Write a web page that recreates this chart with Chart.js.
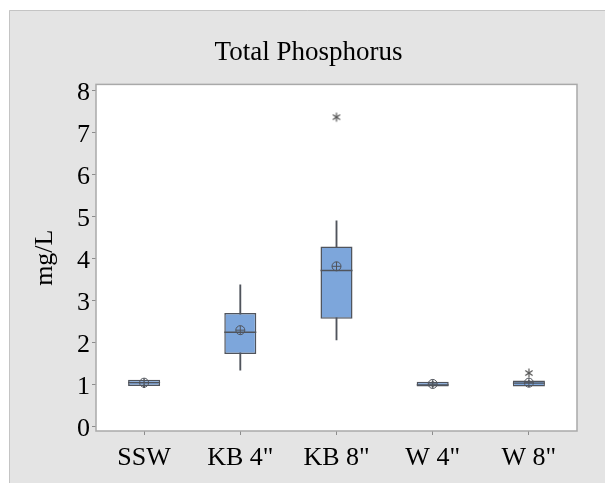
<!DOCTYPE html>
<html>
<head>
<meta charset="utf-8">
<script src="https://cdn.jsdelivr.net/npm/chart.js@4.4.1/dist/chart.umd.min.js"></script>
<style>
  html, body { margin: 0; padding: 0; background: #fff; overflow: hidden; }
  canvas { display: block; }
</style>
</head>
<body>
<canvas id="tp" width="605" height="483"></canvas>
<script>
// Total phosphorus by sampling site (mg/L)
const categories  = ['SSW', 'KB 4"', 'KB 8"', 'W 4"', 'W 8"'];
const whiskerLow  = [0.93, 1.35, 2.07, 0.95, 0.96];
const quartile1   = [0.97, 1.73, 2.57, 0.96, 0.96];
const medians     = [1.05, 2.25, 3.72, 1.00, 1.04];
const quartile3   = [1.12, 2.71, 4.29, 1.07, 1.10];
const whiskerHigh = [1.12, 3.38, 4.90, 1.08, 1.10];
const means       = [1.05, 2.30, 3.82, 1.02, 1.05];
const outlierCats = ['KB 8"', 'W 8"'];
const outlierVals = [7.37, 1.28];
const yTicks      = [0, 1, 2, 3, 4, 5, 6, 7, 8];

const SERIF = "'Liberation Serif', 'Times New Roman', serif";
const INK = '#50545c';

// little "*" marker for outliers
function asterisk(r, color) {
    const n = Math.ceil(r * 2 + 3);
    const c = document.createElement('canvas');
    c.width = c.height = n;
    const g = c.getContext('2d');
    g.strokeStyle = color;
    g.lineWidth = 1.2;
    const m = n / 2;
    [90, 35, 145].forEach(deg => {
        const t = deg * Math.PI / 180;
        g.beginPath();
        g.moveTo(m - r * Math.cos(t), m - r * Math.sin(t));
        g.lineTo(m + r * Math.cos(t), m + r * Math.sin(t));
        g.stroke();
    });
    return c;
}

// grey panel behind everything, white plot area with a grey frame
const plotFrame = {
    id: 'plotFrame',
    beforeDraw(chart) {
        const { ctx, chartArea: a, width, height } = chart;
        ctx.save();
        ctx.fillStyle = '#fff';
        ctx.fillRect(0, 0, width, height);
        ctx.fillStyle = '#e4e4e4';
        ctx.fillRect(9, 10, width, height);
        ctx.strokeStyle = '#c4c4c4';
        ctx.lineWidth = 1;
        ctx.beginPath();
        ctx.moveTo(9.5, height);
        ctx.lineTo(9.5, 10.5);
        ctx.lineTo(width, 10.5);
        ctx.stroke();
        ctx.fillStyle = '#fff';
        ctx.fillRect(a.left, a.top, a.right - a.left, a.bottom - a.top);
        ctx.restore();
    },
    afterDraw(chart) {
        const { ctx, chartArea: a } = chart;
        ctx.save();
        ctx.strokeStyle = '#a9a9a9';
        ctx.lineWidth = 1.5;
        ctx.strokeRect(a.left, a.top, a.right - a.left, a.bottom - a.top);
        ctx.restore();
    }
};

const ctx = document.getElementById('tp').getContext('2d');
new Chart(ctx, {
    type: 'bar',
    data: {
        labels: categories,
        datasets: [
            {
                label: 'whiskers',
                data: whiskerLow.map((lo, i) => [lo, whiskerHigh[i]]),
                backgroundColor: INK,
                barThickness: 1.2,
                grouped: false,
                order: 5
            },
            {
                label: 'IQR',
                data: quartile1.map((q, i) => [q, quartile3[i]]),
                backgroundColor: '#7da6db',
                borderColor: INK,
                borderWidth: 1.5,
                borderSkipped: false,
                categoryPercentage: 1,
                barPercentage: 0.333,
                grouped: false,
                order: 4
            },
            {
                type: 'line',
                label: 'median',
                data: medians,
                showLine: false,
                pointStyle: 'line',
                pointRadius: 16,
                borderColor: INK,
                borderWidth: 1.3,
                order: 3
            },
            {
                type: 'line',
                label: 'mean',
                data: means,
                showLine: false,
                pointStyle: 'circle',
                pointRadius: 4.5,
                backgroundColor: 'rgba(0,0,0,0)',
                borderColor: INK,
                borderWidth: 1,
                order: 2
            },
            {
                type: 'line',
                label: 'mean cross',
                data: means,
                showLine: false,
                pointStyle: 'cross',
                pointRadius: 4.5,
                borderColor: INK,
                borderWidth: 1,
                order: 1
            },
            {
                type: 'line',
                label: 'outliers',
                data: outlierCats.map((c, i) => ({ x: c, y: outlierVals[i] })),
                showLine: false,
                pointStyle: asterisk(4.5, '#555'),
                order: 0
            }
        ]
    },
    options: {
        responsive: false,
        animation: false,
        events: [],
        layout: { padding: { left: 40, right: 28, top: 0, bottom: 0 } },
        plugins: {
            legend: { display: false },
            tooltip: { enabled: false },
            title: {
                display: true,
                text: 'Total Phosphorus',
                color: '#000',
                font: { family: SERIF, size: 27, weight: 'normal' },
                padding: { top: 37, bottom: 15 }
            }
        },
        scales: {
            x: {
                grid: { drawOnChartArea: false, offset: false, tickLength: 4, color: '#8c8c8c' },
                border: { display: false },
                ticks: {
                    color: '#000',
                    font: { family: SERIF, size: 26 },
                    padding: 8,
                    maxRotation: 0,
                    autoSkip: false
                },
                afterFit: s => { s.height = 52; }
            },
            y: {
                min: -0.1,
                max: 8.15,
                afterBuildTicks: s => { s.ticks = yTicks.map(v => ({ value: v })); },
                grid: { drawOnChartArea: false, tickLength: 4, color: '#8c8c8c' },
                border: { display: false },
                ticks: {
                    color: '#000',
                    font: { family: SERIF, size: 26 },
                    padding: 2,
                    labelOffset: 2
                },
                title: {
                    display: true,
                    text: 'mg/L',
                    color: '#000',
                    font: { family: SERIF, size: 26 },
                    padding: { top: -10, bottom: 0 }
                },
                afterFit: s => { s.width = 56; }
            }
        }
    },
    plugins: [plotFrame]
});
</script>
</body>
</html>
